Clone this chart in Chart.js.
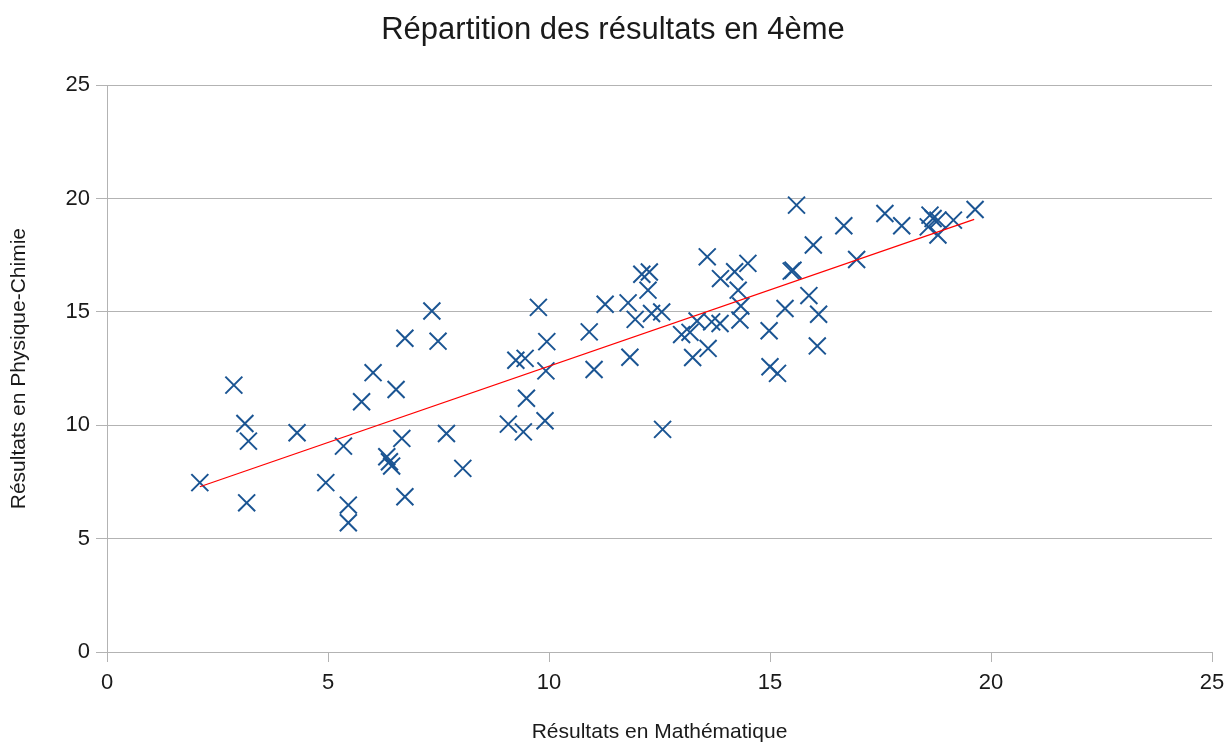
<!DOCTYPE html>
<html>
<head>
<meta charset="utf-8">
<script src="https://cdn.jsdelivr.net/npm/chart.js@4/dist/chart.umd.min.js"></script>
<style>
   body { margin: 0; background: #ffffff; }
</style>
</head>
<body>
<canvas id="graphique" width="1226" height="742"></canvas>
<script>
// Résultats en Mathématique (x) et Physique-Chimie (y)
const notesMaths = [
   2.10, 2.87, 3.12, 3.20, 3.16, 4.30, 4.95, 5.35, 5.46, 5.46,
   5.76, 6.02, 6.54, 6.67, 6.33, 6.39, 6.44, 6.74, 7.68, 8.05,
   6.74, 7.35, 7.49, 9.08, 9.42, 9.91, 9.49, 9.25, 9.46, 9.93,
   9.95, 9.76, 10.91, 11.02, 11.27, 11.79, 11.83, 11.95, 12.10, 12.27,
   12.24, 12.32, 12.55, 12.57, 13.00, 13.19, 13.25, 13.35, 13.68, 13.87,
   13.60, 13.58, 13.88, 14.20, 14.50, 14.28, 14.34, 14.32, 14.98, 15.00,
   15.17, 15.34, 15.52, 15.48, 15.88, 16.10, 16.07, 15.60, 15.98, 16.67,
   16.96, 17.60, 17.98, 18.62, 18.69, 18.58, 18.80, 18.80, 19.15, 19.64
];

const notesPhysique = [
   7.47, 11.77, 10.08, 9.30, 6.58, 9.67, 7.47, 9.08, 6.48, 5.70,
   11.04, 12.32, 11.58, 9.42, 8.61, 8.39, 8.20, 6.85, 9.64, 8.10,
   13.84, 15.04, 13.71, 10.05, 9.71, 10.20, 11.19, 12.87, 12.95, 12.40,
   13.69, 15.20, 14.12, 12.46, 15.34, 15.40, 13.00, 14.67, 16.66, 16.76,
   15.96, 14.93, 15.00, 9.82, 14.00, 14.10, 12.99, 14.60, 14.56, 14.49,
   13.39, 17.43, 16.47, 16.77, 17.14, 15.96, 15.26, 14.64, 14.17, 12.58,
   12.29, 15.15, 16.84, 16.80, 15.72, 14.90, 13.50, 19.71, 17.95, 18.80,
   17.31, 19.34, 18.80, 19.27, 19.12, 18.75, 19.05, 18.39, 19.05, 19.52
];

// Droite de tendance (extrémités)
const tendanceX = [2.10, 19.62];
const tendanceY = [7.29, 19.08];

const graduations = [0, 5, 10, 15, 20, 25];

const couleurPoints = '#1b5593';
const couleurGrille = '#b3b3b3';

const policeTexte = '"Liberation Sans", Arial, sans-serif';

const nuagePoints = notesMaths.map((x, i) => ({ x: x, y: notesPhysique[i] }));
const droiteTendance = tendanceX.map((x, i) => ({ x: x, y: tendanceY[i] }));

const scalesForGraphique = {
   x: {
      type: 'linear',
      min: graduations[0],
      max: graduations[graduations.length - 1],
      afterBuildTicks: function (scale) {
         scale.ticks = graduations.map(v => ({ value: v }));
      },
      afterFit: function (scale) {
         scale.height = 90;
         scale.paddingLeft = 0;
         scale.paddingRight = 14; // marge à droite de la zone de tracé
      },
      ticks: {
         color: '#1a1a1a',
         padding: 8,
         maxRotation: 0,
         font: { family: policeTexte, size: 22 }
      },
      grid: {
         drawOnChartArea: false,
         drawTicks: true,
         tickLength: 10,
         color: couleurGrille
      },
      border: { color: couleurGrille, width: 1 },
      title: {
         display: true,
         text: 'Résultats en Mathématique',
         color: '#1a1a1a',
         font: { family: policeTexte, size: 21 },
         padding: { top: 20, bottom: -3 }
      }
   },
   y: {
      type: 'linear',
      min: graduations[0],
      max: graduations[graduations.length - 1],
      afterBuildTicks: function (scale) {
         scale.ticks = graduations.map(v => ({ value: v }));
      },
      afterFit: function (scale) {
         scale.width = 107;
      },
      ticks: {
         color: '#1a1a1a',
         padding: 6,
         font: { family: policeTexte, size: 22 }
      },
      grid: {
         color: couleurGrille,
         lineWidth: 1,
         tickLength: 11
      },
      border: { color: couleurGrille, width: 1 },
      title: {
         display: true,
         text: 'Résultats en Physique-Chimie',
         color: '#1a1a1a',
         font: { family: policeTexte, size: 21 },
         padding: { top: 7, bottom: 0 }
      }
   }
};

new Chart(
   document.getElementById('graphique'),
   {
      type: 'scatter',
      data: {
         datasets: [
            {
               label: 'Résultats',
               data: nuagePoints,
               pointStyle: 'crossRot',
               pointRadius: 12,
               pointHoverRadius: 12,
               pointBorderWidth: 2,
               borderColor: couleurPoints,
               backgroundColor: couleurPoints,
               showLine: false,
               order: 1
            },
            {
               label: 'Tendance',
               data: droiteTendance,
               showLine: true,
               borderColor: '#ff0000',
               borderWidth: 1.2,
               pointRadius: 0,
               fill: false,
               order: 0
            }
         ]
      },
      options: {
         responsive: false,
         animation: false,
         layout: {
            padding: { left: 0, right: 0, top: 0, bottom: 0 }
         },
         scales: scalesForGraphique,
         plugins: {
            legend: { display: false },
            tooltip: { enabled: false },
            title: {
               display: true,
               text: 'Répartition des résultats en 4ème',
               color: '#1a1a1a',
               font: { family: policeTexte, size: 31, weight: 'normal' },
               padding: { top: 12, bottom: 36 }
            }
         }
      }
   }
);
</script>
</body>
</html>
